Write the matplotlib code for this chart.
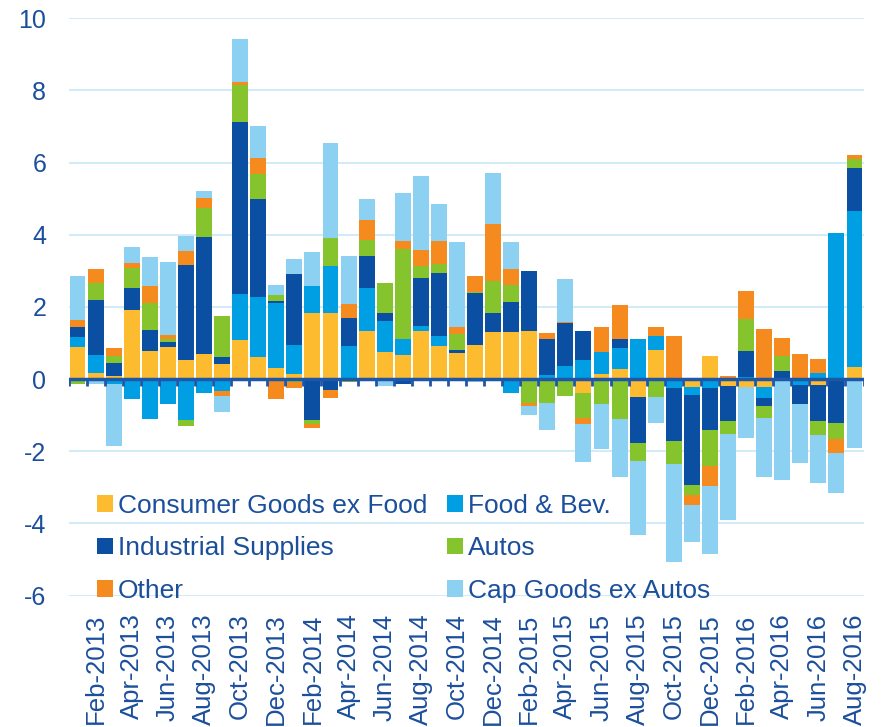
##Stacked bar chart of export growth contributions by category
##Jan 2013 - Aug 2016

import numpy as np
import pandas as pd
import matplotlib
matplotlib.use('Agg')
import matplotlib.pyplot as plt
from matplotlib.patches import Patch

###DATA###########################################################
months = pd.date_range('2013-01-01', '2016-08-01', freq='MS')
month_labels = [m.strftime('%b-%Y') for m in months]

consumer = [0.88, 0.18, 0.08, 1.91, 0.78, 0.88, 0.53, 0.69, 0.42, 1.08, 0.60,
            0.31, 0.13, 1.84, 1.84, 0.00, 1.33, 0.75, 0.66, 1.33, 0.92, 0.73,
            0.95, 1.30, 1.30, 1.32, 0.00, 0.00, -0.40, 0.13, 0.29, -0.49, 0.81,
            0.00, -0.21, 0.64, -0.19, -0.23, -0.23, 0.00, 0.00, -0.16, 0.00, 0.32]
food = [0.28, 0.48, -0.15, -0.55, -1.11, -0.69, -1.14, -0.38, -0.33, 1.27, 1.68,
        1.80, 0.82, 0.73, 1.30, 0.91, 1.19, 0.85, 0.44, 0.15, 0.28, 0.00,
        0.00, 0.00, -0.39, -0.06, 0.10, 0.37, 0.54, 0.61, 0.58, 1.10, 0.39,
        -0.24, -0.23, -0.26, 0.00, 0.06, -0.30, 0.00, -0.16, 0.16, 4.05, 4.34]
industrial = [0.29, 1.53, 0.35, 0.62, 0.58, 0.15, 2.63, 3.25, 0.20, 4.78, 2.72,
              0.05, 1.96, -1.13, -0.30, 0.77, 0.88, 0.23, -0.15, 1.31, 1.75, 0.07,
              1.44, 0.52, 0.83, 1.68, 1.02, 1.17, 0.80, 0.00, 0.23, -1.29, 0.00,
              -1.49, -2.49, -1.15, -0.97, 0.72, -0.22, 0.23, -0.54, -0.99, -1.21, 1.18]
autos = [-0.15, 0.48, 0.22, 0.56, 0.74, 0.07, -0.16, 0.81, 1.13, 1.03, 0.69,
         0.17, -0.08, -0.11, 0.78, -0.08, 0.44, 0.82, 2.49, 0.34, 0.23, 0.44,
         0.03, 0.90, 0.47, -0.60, -0.66, -0.47, -0.67, -0.70, -1.12, -0.48, -0.51,
         -0.62, -0.28, -1.00, -0.37, 0.88, -0.32, 0.42, 0.00, -0.40, -0.45, 0.27]
other = [0.19, 0.37, 0.21, 0.13, 0.48, 0.13, 0.39, 0.28, -0.13, 0.06, 0.44,
         -0.55, -0.18, -0.12, -0.23, 0.41, 0.58, 0.00, 0.23, 0.44, 0.65, 0.21,
         0.44, 1.57, 0.44, -0.09, 0.15, 0.04, -0.17, 0.69, 0.96, 0.00, 0.24,
         1.18, -0.29, -0.55, 0.07, 0.77, 1.39, 0.50, 0.69, 0.40, -0.38, 0.09]
capgoods = [1.21, -0.15, -1.72, 0.45, 0.81, 2.00, 0.40, 0.18, -0.46, 1.19, 0.87,
            0.28, 0.41, 0.95, 2.62, 1.33, 0.56, -0.19, 1.34, 2.07, 1.02, 2.34,
            -0.08, 1.42, 0.77, -0.24, -0.76, 1.19, -1.06, -1.24, -1.60, -2.07, -0.72,
            -2.72, -1.02, -1.89, -2.37, -1.41, -1.65, -2.81, -1.63, -1.32, -1.12, -1.92]

series_names = ['Consumer Goods ex Food', 'Food & Bev.', 'Industrial Supplies',
                'Autos', 'Other', 'Cap Goods ex Autos']
series_vals = [consumer, food, industrial, autos, other, capgoods]
colours = ['#FDBB2F', '#009FE3', '#0B4FA3', '#86C42E', '#F58A1F', '#8CD1F2']

txtcol = '#1B4F9C'

###PLOT###########################################################
fig = plt.figure(figsize=(8.84, 7.27), dpi=100)
ax = fig.add_axes([68.5/884, 1-595.5/727, 795/884, 577.3/727])
plt.rcParams['font.family'] = ['Liberation Sans', 'DejaVu Sans']

x = np.arange(len(months))
pos_bottom = np.zeros(len(x))
neg_bottom = np.zeros(len(x))

#stack positives up and negatives down, same series order
for vals, col in zip(series_vals, colours):
    v = np.array(vals)
    pos = np.where(v > 0, v, 0)
    neg = np.where(v < 0, v, 0)
    ax.bar(x, pos, bottom=pos_bottom, width=0.88, color=col, zorder=3)
    ax.bar(x, neg, bottom=neg_bottom, width=0.88, color=col, zorder=3)
    pos_bottom += pos
    neg_bottom += neg

ax.set_xlim(-0.5, len(x)-0.5)
ax.set_ylim(-6, 10)
ax.set_yticks(np.arange(-6, 11, 2))
ax.set_yticklabels([str(t) for t in range(-6, 11, 2)], fontsize=18, color=txtcol,
                   family=['Liberation Sans'])
for t in range(-6, 11, 2):
    if t != 0:
        ax.axhline(t, color='#C8E7F7', lw=1.2, zorder=0)

## zero line with category ticks
ax.axhline(0, color='#1E56A8', lw=2.5, zorder=4)
ax.vlines(np.arange(-0.5, len(x)), -0.2, 0, color='#1E56A8', lw=2, zorder=4)

ax.set_xticks(x[1::2])
ax.set_xticklabels(month_labels[1::2], rotation=90, fontsize=18.5, color=txtcol,
                   family=['Liberation Sans'], va='top', ha='center')
ax.tick_params(axis='x', length=0, pad=13)
ax.tick_params(axis='y', length=0, pad=16)
for s in ax.spines.values():
    s.set_visible(False)

## legend, column-wise order so rows read across
handles = [Patch(facecolor=c) for c in colours]
order = [0, 2, 4, 1, 3, 5]
leg = ax.legend([handles[i] for i in order], [series_names[i] for i in order],
                ncol=2, loc='upper left', bbox_to_anchor=(96.7/884, 1-494/727),
                bbox_transform=fig.transFigure, frameon=False, borderpad=0,
                borderaxespad=0, handlelength=0.6, handleheight=0.58,
                handletextpad=0.2, labelspacing=0.7, columnspacing=0.75,
                prop={'family': 'Liberation Sans', 'size': 19})
for t in leg.get_texts():
    t.set_color(txtcol)

fig.savefig('out.png', dpi=100)
